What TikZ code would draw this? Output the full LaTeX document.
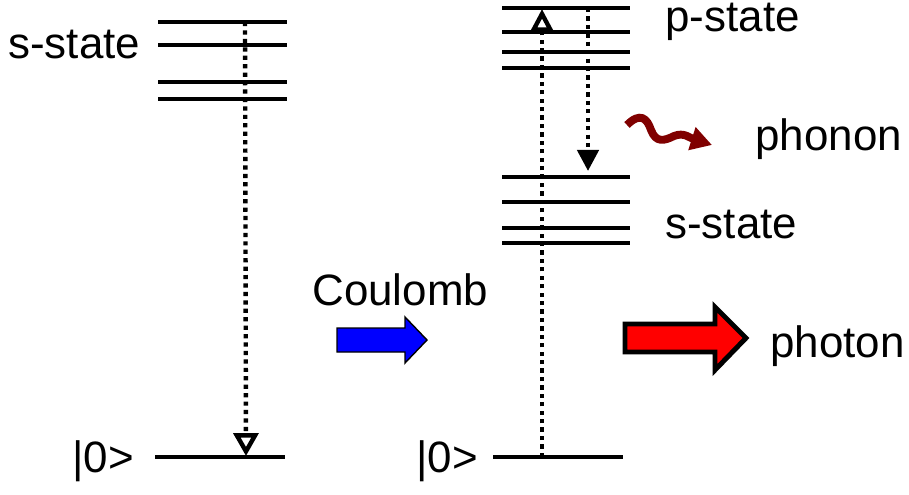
\documentclass[tikz,border=0pt]{standalone}
\usepackage{fontspec}
\setmainfont{Liberation Sans}
\usetikzlibrary{arrows.meta, calc}
\definecolor{phononred}{RGB}{128,0,0}

\begin{document}
\begin{tikzpicture}[x=0.02cm, y=-0.02cm,
  level/.style={line width=2.7pt},
  trans/.style={line width=2.5pt, dash pattern=on 2.4pt off 2.4pt},
  lbl/.style={anchor=base west, inner sep=0pt, font=\fontsize{25}{30}\selectfont}]
\useasboundingbox (0,0) rectangle (909,494);

% Left ladder: s-state levels and ground
\foreach \y in {22,45,82,99} \draw[level] (158,\y) -- (287,\y);
\draw[level] (155,457) -- (285,457);
\coordinate (sLtop) at (245,22);
\coordinate (gL) at (246,456);

% Right ladder: p-state and s-state levels and ground
\foreach \y in {8,32,52,68} \draw[level] (502,\y) -- (630,\y);
\foreach \y in {177,202,228,243} \draw[level] (502,\y) -- (630,\y);
\draw[level] (493,457) -- (623,457);
\coordinate (gR) at (542,457);
\coordinate (pRup) at (542,9);
\coordinate (pRtop) at (588,8);
\coordinate (sRtop) at (588,171);

% Transitions
\draw[trans, -{Triangle[open, length=13pt, width=14pt, line width=2.5pt]}] (sLtop) -- (gL);
\draw[trans, -{Triangle[open, length=13pt, width=13pt, line width=2.5pt]}] (gR) -- (pRup);
\draw[trans, -{Triangle[length=12pt, width=12pt]}] (pRtop) -- (sRtop);

% Labels
\node[lbl] (sleft) at (8,58) {s-state};
\node[lbl] (zleft) at (72,472) {|0>};
\node[lbl] (pright) at (665,31) {p-state};
\node[lbl] (phon) at (755,150) {phonon};
\node[lbl] (sright) at (665,238) {s-state};
\node[lbl] (coul) at (312,305) {Coulomb};
\node[lbl] (phot) at (770,357) {photon};
\node[lbl] (zright) at (416,472) {|0>};

% Coulomb arrow
\draw[fill=blue, line width=0.8pt] (337,328) -- (405,328) -- (405,317) -- (427,340)
  -- (405,363) -- (405,352) -- (337,352) -- cycle;

% photon arrow
\draw[fill=red, line width=2.8pt] (625,324) -- (715,324) -- (715,307) -- (746,338)
  -- (715,370) -- (715,352) -- (625,352) -- cycle;

% phonon wiggle
\draw[phononred, line width=4.5pt, -{Triangle[length=12pt, width=13pt]}]
  (627,125) .. controls (640,112) and (647,118) .. (651,130)
  .. controls (656,143) and (664,141) .. (674,136)
  .. controls (684,132) and (690,138) .. (712,145);
\end{tikzpicture}
\end{document}
